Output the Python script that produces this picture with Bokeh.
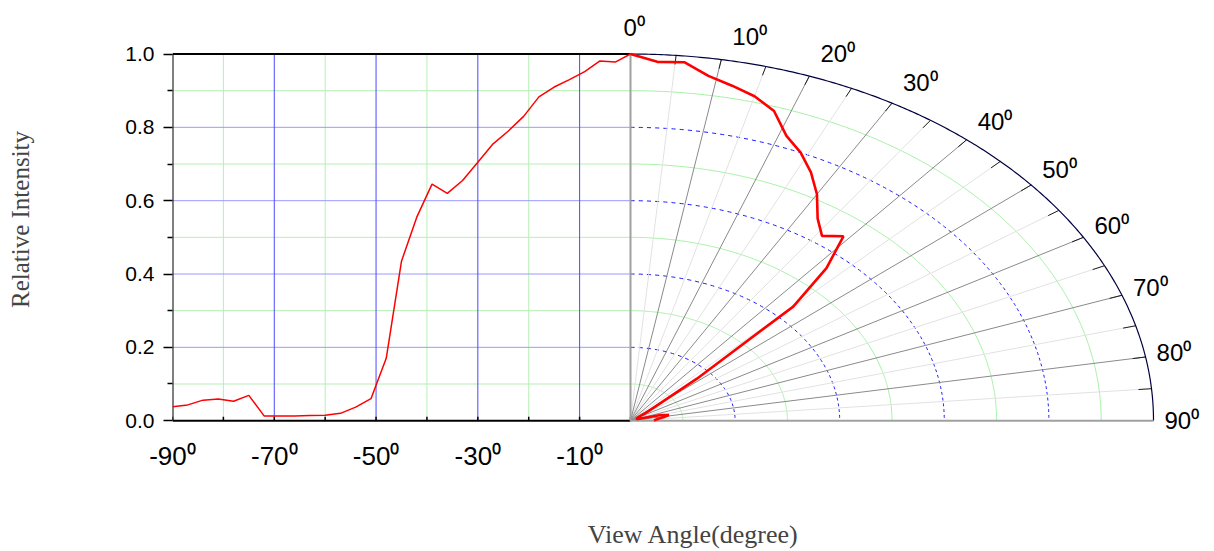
import numpy as np
from bokeh.plotting import figure
from bokeh.models import Range1d, FixedTicker, PrintfTickFormatter
from bokeh.core.properties import value
from bokeh.embed import file_html
from bokeh.resources import INLINE

# ---------------- data ----------------
left_angle = [-90, -87, -84, -81, -78, -75, -72, -69, -66, -63, -60, -57, -54, -51, -48, -45,
              -42, -39, -36, -33, -30, -27, -24, -21, -18, -15, -12, -9, -6, -3, 0]
left_intensity = [0.038, 0.043, 0.056, 0.059, 0.053, 0.069, 0.013, 0.013, 0.013, 0.014, 0.015,
                  0.020, 0.037, 0.060, 0.170, 0.435, 0.555, 0.645, 0.620, 0.655, 0.705, 0.755,
                  0.790, 0.830, 0.883, 0.910, 0.930, 0.952, 0.981, 0.978, 1.000]

right_angle = [0, 3, 6, 9, 12, 15, 18, 21, 24, 27, 30, 33, 36, 39, 42, 45, 48, 51, 54, 57, 60,
               63, 66, 69, 72, 75, 78, 81, 84, 87, 90]
right_intensity = [1.000, 0.980, 0.983, 0.952, 0.934, 0.916, 0.888, 0.832, 0.800, 0.760, 0.713,
                   0.657, 0.623, 0.647, 0.560, 0.440, 0.170, 0.060, 0.037, 0.020, 0.015, 0.014,
                   0.013, 0.013, 0.015, 0.060, 0.075, 0.065, 0.055, 0.048, 0.045]

y_ticks = [0.0, 0.2, 0.4, 0.6, 0.8, 1.0]
y_minor_ticks = [0.1, 0.3, 0.5, 0.7, 0.9]
x_ticks = [-90, -70, -50, -30, -10]
x_minor_ticks = [-80, -60, -40, -20, 0]

grid_blue_x = [-70, -50, -30, -10]
grid_green_x = [-80, -60, -40, -20]
grid_blue_y = [0.2, 0.4, 0.6, 0.8]
grid_green_y = [0.1, 0.3, 0.5, 0.7, 0.9]

polar_label_angles = [0, 10, 20, 30, 40, 50, 60, 70, 80, 90]
polar_labels = ["0⁰", "10⁰", "20⁰", "30⁰", "40⁰", "50⁰", "60⁰", "70⁰", "80⁰", "90⁰"]
blue_rings = [0.2, 0.4, 0.6, 0.8]
green_rings = [0.1, 0.3, 0.5, 0.7, 0.9]
dark_spokes = [10, 20, 30, 40, 50, 60, 70, 80]
light_spokes = [5, 15, 25, 35, 45, 55, 65, 75, 85]
arc_tick_angles = list(range(5, 90, 5))

# ---------------- layout (pixels) ----------------
W, H = 1214, 551
FRAME_L = 172      # x of -90 deg
ZERO_Y = 424       # y of intensity 0
FRAME_B = 442      # bottom of the plotting frame (a little below intensity 0)
ZERO_X = 630       # x of 0 deg / polar centre
TOP_Y = 54         # y of intensity 1
R_X = 523          # horizontal polar radius (px) for r=1

px_per_deg = (ZERO_X - FRAME_L) / 90.0
px_per_unit = ZERO_Y - TOP_Y
x_end = (W - FRAME_L) / px_per_deg - 90
y_start = -(FRAME_B - ZERO_Y) / px_per_unit
y_end = ZERO_Y / px_per_unit
KX = R_X / px_per_deg   # polar radius 1 expressed in x-axis (degree) units


def pol_x(r, theta_deg):
    return KX * np.asarray(r, dtype=float) * np.sin(np.radians(theta_deg))


def pol_y(r, theta_deg):
    return np.asarray(r, dtype=float) * np.cos(np.radians(theta_deg))


def dashed_arc(r, dash_deg, gap_deg):
    xs, ys = [], []
    a = 0.0
    while a < 90:
        b = min(a + dash_deg, 90)
        seg = np.linspace(a, b, 3)
        xs.append([float(v) for v in pol_x(r, seg)])
        ys.append([float(v) for v in pol_y(r, seg)])
        a = b + gap_deg
    return xs, ys


p = figure(width=W, height=H, x_range=Range1d(-90, x_end), y_range=Range1d(y_start, y_end),
           output_backend="svg", toolbar_location=None,
           min_border_left=FRAME_L, min_border_right=0, min_border_top=0,
           min_border_bottom=H - FRAME_B)
p.outline_line_color = None
p.xgrid.visible = False
p.ygrid.visible = False

SANS = value("Liberation Sans")

# left panel grid
p.segment(x0=grid_green_x, y0=[0] * 4, x1=grid_green_x, y1=[1] * 4,
          line_color="#b6efb6", line_width=1)
p.segment(x0=[-90] * 5, y0=grid_green_y, x1=[0] * 5, y1=grid_green_y,
          line_color="#b6efb6", line_width=1)
p.segment(x0=[-90] * 4, y0=grid_blue_y, x1=[0] * 4, y1=grid_blue_y,
          line_color="#9a9aff", line_width=1)
p.segment(x0=grid_blue_x, y0=[0] * 4, x1=grid_blue_x, y1=[1] * 4,
          line_color="#4a4aff", line_width=1)
# box edges of left panel (top, left, bottom)
p.segment(x0=[-90, -90, -90], y0=[1, 0, 0], x1=[0, -90, 0], y1=[1, 1, 0],
          line_color="black", line_width=2)
# inward ticks on the bottom edge
bt = x_ticks + x_minor_ticks
p.segment(x0=bt, y0=[0.0] * len(bt), x1=bt, y1=[4.0 / px_per_unit] * len(bt),
          line_color="black", line_width=1.5)

# polar grid
tt = np.linspace(0, 90, 271)
p.multi_line(xs=[[float(v) for v in pol_x(r, tt)] for r in green_rings],
             ys=[[float(v) for v in pol_y(r, tt)] for r in green_rings],
             line_color="#a6f0a6", line_width=1)
bx, by = [], []
for r in blue_rings:
    xs_, ys_ = dashed_arc(r, 0.45 / r, 0.45 / r)
    bx += xs_
    by += ys_
p.multi_line(xs=bx, ys=by, line_color="#1a1aff", line_width=1)
n = len(light_spokes)
p.segment(x0=[0.0] * n, y0=[0.0] * n, x1=[float(v) for v in pol_x(1, light_spokes)],
          y1=[float(v) for v in pol_y(1, light_spokes)], line_color="#e2e2e2", line_width=1)
n = len(dark_spokes)
p.segment(x0=[0.0] * n, y0=[0.0] * n, x1=[float(v) for v in pol_x(1, dark_spokes)],
          y1=[float(v) for v in pol_y(1, dark_spokes)], line_color="#8a8a8a", line_width=1)
p.segment(x0=[float(v) for v in pol_x(0.975, arc_tick_angles)],
          y0=[float(v) for v in pol_y(0.975, arc_tick_angles)],
          x1=[float(v) for v in pol_x(1, arc_tick_angles)],
          y1=[float(v) for v in pol_y(1, arc_tick_angles)],
          line_color="#202020", line_width=1)
p.line(x=[float(v) for v in pol_x(1, tt)], y=[float(v) for v in pol_y(1, tt)],
       line_color="#000040", line_width=1.2)
p.segment(x0=[0.0, 0.0], y0=[0.0, 0.0], x1=[0.0, float(pol_x(1, 90))], y1=[1.0, 0.0],
          line_color="#a0a0a0", line_width=2)

# red curves
p.line(x=left_angle, y=left_intensity, line_color="#ff0000", line_width=1.5)
p.line(x=[float(v) for v in pol_x(right_intensity, right_angle)],
       y=[float(v) for v in pol_y(right_intensity, right_angle)],
       line_color="#ff0000", line_width=2.6)

# polar angle labels (just outside the outer arc)
lab_x = [float(pol_x(1, a)) + (-7.0 if a == 0 else 11.0) / px_per_deg for a in polar_label_angles]
lab_y = [float(pol_y(1, a)) + (27.0 if a == 0 else 24.0 * float(np.cos(np.radians(a)))) / px_per_unit
         for a in polar_label_angles]
p.text(x=lab_x, y=lab_y, text=polar_labels, text_font=SANS, text_font_size="24px",
       text_color="black", text_align="left", text_baseline="middle")

# axes
yaxis = p.yaxis[0]
yaxis.ticker = FixedTicker(ticks=y_ticks, minor_ticks=y_minor_ticks)
yaxis.formatter = PrintfTickFormatter(format="%.1f")
yaxis.axis_label = "Relative Intensity"
yaxis.axis_line_color = None
yaxis.major_tick_out = 9
yaxis.major_tick_in = 0
yaxis.minor_tick_out = 5
yaxis.minor_tick_in = 0
yaxis.major_tick_line_width = 1.5
yaxis.minor_tick_line_width = 1.5
yaxis.major_label_text_font = "Liberation Sans"
yaxis.major_label_text_font_size = "21px"
yaxis.major_label_text_color = "black"
yaxis.major_label_standoff = 9
yaxis.axis_label_text_font = "Liberation Serif"
yaxis.axis_label_text_font_style = "normal"
yaxis.axis_label_text_font_size = "25px"
yaxis.axis_label_standoff = 88

xaxis = p.xaxis[0]
xaxis.ticker = FixedTicker(ticks=x_ticks, minor_ticks=x_minor_ticks)
xaxis.formatter = PrintfTickFormatter(format="%d⁰")
xaxis.axis_label = "View Angle(degree)"
xaxis.axis_line_color = None
xaxis.major_tick_in = 0
xaxis.major_tick_out = 0
xaxis.minor_tick_in = 0
xaxis.minor_tick_out = 0
xaxis.major_label_text_font = "Liberation Sans"
xaxis.major_label_text_font_size = "26px"
xaxis.major_label_text_color = "black"
xaxis.major_label_standoff = 2
xaxis.axis_label_text_font = "Liberation Serif"
xaxis.axis_label_text_font_style = "normal"
xaxis.axis_label_text_font_size = "26px"
xaxis.axis_label_standoff = 46

open("out.html", "w").write(file_html(p, INLINE))
